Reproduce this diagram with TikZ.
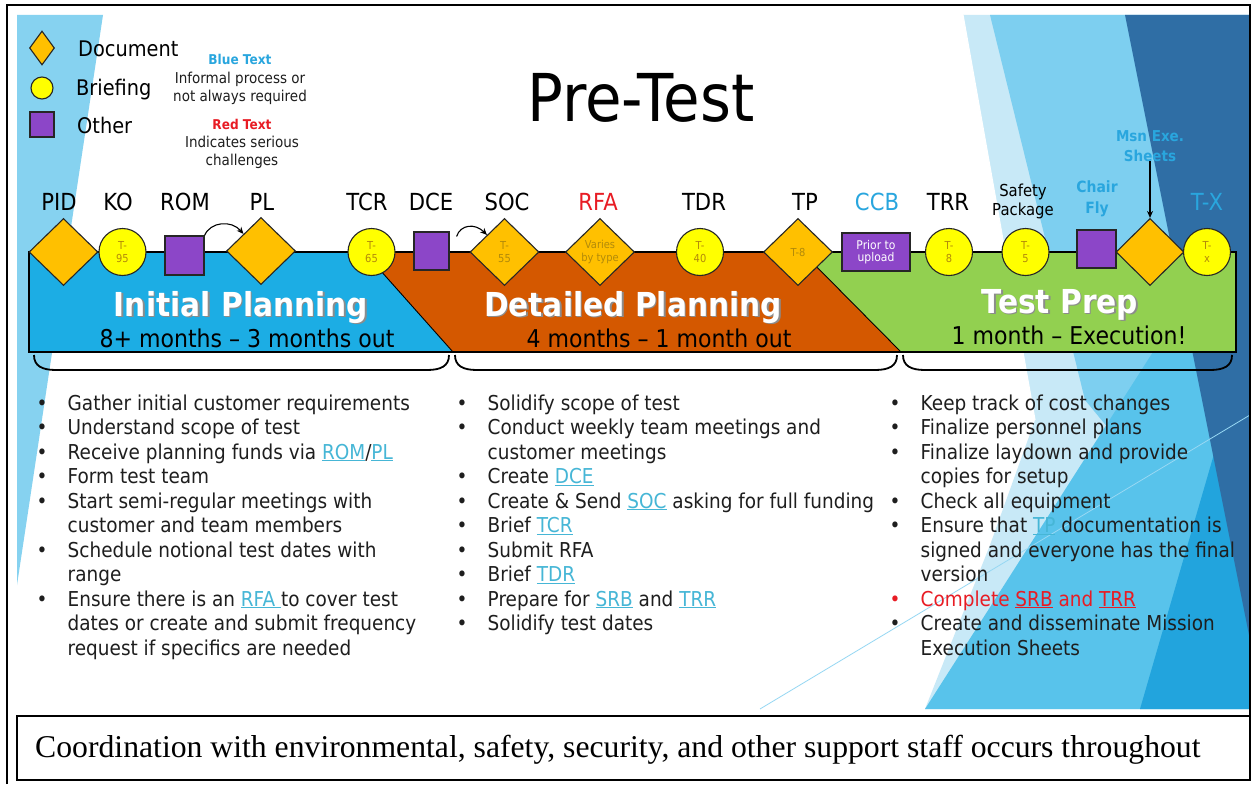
\documentclass[tikz,border=0pt]{standalone}
\usepackage{fontspec}
\usetikzlibrary{shapes.geometric,arrows.meta}
\newfontfamily\tah{DejaVu Sans}[FakeStretch=0.9]
\newfontfamily\capserif{Liberation Serif}
\newcommand\fsz[2]{\fontsize{#1}{#2}\selectfont}

\definecolor{goldc}{RGB}{255,192,0}
\definecolor{yelc}{RGB}{255,255,0}
\definecolor{purc}{RGB}{140,70,200}
\definecolor{bandblue}{RGB}{28,173,228}
\definecolor{bandorange}{RGB}{212,88,0}
\definecolor{bandgreen}{RGB}{146,208,80}
\definecolor{skyc}{RGB}{41,166,222}
\definecolor{redc}{RGB}{232,28,36}
\definecolor{linkc}{RGB}{70,182,214}
\definecolor{tinyc}{RGB}{178,138,10}
\definecolor{txtc}{RGB}{30,30,30}
\definecolor{stripe}{RGB}{134,210,240}
\definecolor{paleb}{RGB}{200,233,247}
\definecolor{lightb}{RGB}{125,207,240}
\definecolor{cyanb}{RGB}{88,195,235}
\definecolor{deepb}{RGB}{34,164,221}
\definecolor{darkb}{RGB}{47,110,165}

\newcommand\lnk[1]{\textcolor{linkc}{\underline{#1}}}
% one bulleted line, and one continuation line, of a task list
\newcommand\bitem[4]{\node[bul] (#1) at (#2,#3) {\makebox[31pt][l]{\textbullet}#4};}
\newcommand\bcont[4]{\node[bul] (#1) at (#2,#3) {\hspace*{31pt}#4};}

\begin{document}
\begin{tikzpicture}[x=1pt,y=-1pt,
  shp/.style={draw=black!85,line width=1.1pt},
  doc/.style={diamond,shp,fill=goldc,minimum width=69pt,minimum height=67pt,inner sep=0pt,align=center,font=\tah\fsz{11}{13},text=tinyc},
  brf/.style={circle,shp,fill=yelc,minimum size=47pt,inner sep=0pt,align=center,font=\tah\fsz{11}{13},text=tinyc},
  oth/.style={rectangle,shp,fill=purc,minimum width=39pt,minimum height=39pt,inner sep=0pt},
  mlbl/.style={anchor=base,inner sep=0pt,font=\tah\fsz{23.5}{28},text=black},
  note/.style={anchor=base,inner sep=0pt,font=\tah\fsz{15}{18},text=txtc},
  ttl/.style={anchor=base,inner sep=0pt,font=\tah\bfseries\fsz{33}{36},text=white},
  ttlsh/.style={ttl,text=black!45},
  sub/.style={anchor=base,inner sep=0pt,font=\tah\fsz{24.5}{28},text=black},
  bul/.style={anchor=base west,inner sep=0pt,font=\tah\fsz{20.5}{24.5},text=txtc},
  flow/.style={-{Stealth[length=7pt,width=6pt]},line width=1.1pt,black},
  spanline/.style={line width=1.8pt,black}
]
\useasboundingbox (0,0) rectangle (1252,784);
\fill[white] (0,0) rectangle (1252,784);

% slide background facets
\fill[stripe] (17,15) -- (103,15) -- (17,585) -- cycle;
\fill[paleb] (963,15) -- (1250,15) -- (1250,709) -- (925,709) -- (990,545) -- (1035,420) -- cycle;
\fill[lightb] (990,15) -- (1250,15) -- (1250,600) -- (1085,400) -- cycle;
\fill[cyanb] (925,709) -- (1250,200) -- (1250,709) -- cycle;
\fill[deepb] (1140,709) -- (1250,330) -- (1250,709) -- cycle;
\fill[darkb] (1125,15) -- (1250,15) -- (1250,640) -- cycle;
\draw[white,line width=1.2pt] (963,15) -- (1035,420);
\draw[lightb!80!white,line width=0.8pt] (760,709) -- (1250,415);

% frame and caption box
\draw[line width=1.6pt] (7,784) -- (7,5) -- (1250,5) -- (1250,716);
\draw[line width=2.2pt] (17,716) rectangle (1250,780);
\node[anchor=base west,inner sep=0pt,font=\capserif\fsz{31.7}{36}] (caption) at (35,757)
  {Coordination with environmental, safety, security, and other support staff occurs throughout};

% title
\node[anchor=base,inner sep=0pt,font=\tah\fsz{66}{70}] (title) at (641,121) {Pre-Test};

% legend
\node[doc,minimum width=25pt,minimum height=34pt] (lgdoc) at (42,48) {};
\node[brf,minimum size=22pt] (lgbrf) at (42,88) {};
\node[oth,minimum width=24pt,minimum height=25pt] (lgoth) at (42,124.5) {};
\node[anchor=base west,inner sep=0pt,font=\tah\fsz{21.5}{24}] (lgdoct) at (78,56.5) {Document};
\node[anchor=base west,inner sep=0pt,font=\tah\fsz{21.5}{24}] (lgbrft) at (76,95) {Briefing};
\node[anchor=base west,inner sep=0pt,font=\tah\fsz{21.5}{24}] (lgotht) at (77,133) {Other};
\node[note,font=\tah\bfseries\fsz{13.5}{16},text=skyc] (bluet) at (240,65) {Blue Text};
\node[note] (blue1) at (240,83.3) {Informal process or};
\node[note] (blue2) at (240,101.7) {not always required};
\node[note,font=\tah\bfseries\fsz{13.5}{16},text=redc] (redt) at (242,129) {Red Text};
\node[note] (red1) at (242,147.7) {Indicates serious};
\node[note] (red2) at (242,165) {challenges};

% phase band
\fill[bandblue] (29,252) -- (364,252) -- (453,352) -- (29,352) -- cycle;
\fill[bandorange] (364,252) -- (802,252) -- (901,352) -- (453,352) -- cycle;
\fill[bandgreen] (802,252) -- (1236,252) -- (1236,352) -- (901,352) -- cycle;
\draw[line width=1.1pt] (29,252) rectangle (1236,352);
\draw[line width=0.9pt] (364,252) -- (453,352) (802,252) -- (901,352);

% brackets under the phases
\draw[spanline] (34,355) .. controls (34,366) and (42,370) .. (56,370) -- (427,370) .. controls (441,370) and (449,366) .. (449,355);
\draw[spanline] (455,355) .. controls (455,366) and (463,370) .. (477,370) -- (875,370) .. controls (889,370) and (897,366) .. (897,355);
\draw[spanline] (903,355) .. controls (903,366) and (911,370) .. (925,370) -- (1210,370) .. controls (1224,370) and (1232,366) .. (1232,355);

% phase titles
\node[ttlsh] (ipsh) at (242.5,317.5) {Initial Planning};
\node[ttl] (ip) at (241,316) {Initial Planning};
\node[sub] (ipsub) at (247,347) {8+ months – 3 months out};
\node[ttlsh] (dpsh) at (634.5,317.5) {Detailed Planning};
\node[ttl] (dp) at (633,316) {Detailed Planning};
\node[sub] (dpsub) at (659,347) {4 months – 1 month out};
\node[ttlsh] (tpsh) at (1061.5,314.5) {Test Prep};
\node[ttl] (tpr) at (1060,313) {Test Prep};
\node[sub] (tpsub) at (1069,344) {1 month – Execution!};

% milestones
\node[doc] (pid) at (63.5,252) {};
\node[brf] (ko) at (122.5,252) {T-\\95};
\node[oth] (rom) at (184.5,255.5) {};
\node[doc] (pl) at (261,251) {};
\node[brf] (tcr) at (371.5,252) {T-\\65};
\node[oth,minimum width=35pt,minimum height=38pt] (dce) at (431.5,251) {};
\node[doc] (soc) at (504.5,252) {T-\\55};
\node[doc] (rfa) at (600,252) {Varies\\by type};
\node[brf] (tdr) at (700,252) {T-\\40};
\node[doc] (tp) at (798,252) {T-8};
\node[oth,minimum width=68pt,minimum height=38pt,font=\tah\fsz{12}{12.5},text=white,align=center] (ccb) at (876,252) {Prior to\\upload};
\node[brf] (trr) at (949,252) {T-\\8};
\node[brf] (saf) at (1025.5,252) {T-\\5};
\node[oth,minimum height=38pt] (chair) at (1096.5,249) {};
\node[doc,minimum width=68pt] (msn) at (1150,252) {};
\node[brf] (tx) at (1207,252) {T-\\x};

% milestone labels
\node[mlbl] (pidl) at (59,210) {PID};
\node[mlbl] (kol) at (118,210) {KO};
\node[mlbl] (roml) at (185,210) {ROM};
\node[mlbl] (pll) at (262,210) {PL};
\node[mlbl] (tcrl) at (367,210) {TCR};
\node[mlbl] (dcel) at (431,210) {DCE};
\node[mlbl] (socl) at (507,210) {SOC};
\node[mlbl,text=redc] (rfal) at (598,210) {RFA};
\node[mlbl] (tdrl) at (704,210) {TDR};
\node[mlbl] (tpl) at (805,210) {TP};
\node[mlbl,text=skyc] (ccbl) at (877,210) {CCB};
\node[mlbl] (trrl) at (948,210) {TRR};
\node[mlbl,font=\tah\fsz{16.5}{19}] (saf1) at (1023,196) {Safety};
\node[mlbl,font=\tah\fsz{16.5}{19}] (saf2) at (1023,215) {Package};
\node[mlbl,font=\tah\bfseries\fsz{15.5}{19},text=skyc] (chair1) at (1097,192) {Chair};
\node[mlbl,font=\tah\bfseries\fsz{15.5}{19},text=skyc] (chair2) at (1097,213) {Fly};
\node[mlbl,font=\tah\bfseries\fsz{15}{18},text=skyc] (msn1) at (1150,141) {Msn Exe.};
\node[mlbl,font=\tah\bfseries\fsz{15}{18},text=skyc] (msn2) at (1150,161) {Sheets};
\node[mlbl,text=skyc] (txl) at (1207,210) {T-X};

% connectors
\draw[flow] (rom.north east) .. controls +(6,-14) and +(-12,-14) .. (pl.north west);
\draw[flow] ([shift={(7,5)}]dce.north east) .. controls +(4,-12) and +(-12,-12) .. (soc.north west);
\draw[flow] (msn2.south) -- (msn.north);

% task lists
\bitem{a1}{36.5}{410}{Gather initial customer requirements}
\bitem{a2}{36.5}{434.5}{Understand scope of test}
\bitem{a3}{36.5}{459}{Receive planning funds via \lnk{ROM}/\lnk{PL}}
\bitem{a4}{36.5}{483.5}{Form test team}
\bitem{a5}{36.5}{508}{Start semi-regular meetings with}
\bcont{a6}{36.5}{532.5}{customer and team members}
\bitem{a7}{36.5}{557}{Schedule notional test dates with}
\bcont{a8}{36.5}{581.5}{range}
\bitem{a9}{36.5}{606}{Ensure there is an \lnk{RFA~}to cover test}
\bcont{a10}{36.5}{630.5}{dates or create and submit frequency}
\bcont{a11}{36.5}{655}{request if specifics are needed}

\bitem{b1}{456.5}{410}{Solidify scope of test}
\bitem{b2}{456.5}{434.5}{Conduct weekly team meetings and}
\bcont{b3}{456.5}{459}{customer meetings}
\bitem{b4}{456.5}{483.5}{Create \lnk{DCE}}
\bitem{b5}{456.5}{508}{Create \& Send \lnk{SOC} asking for full funding}
\bitem{b6}{456.5}{532.5}{Brief \lnk{TCR}}
\bitem{b7}{456.5}{557}{Submit RFA}
\bitem{b8}{456.5}{581.5}{Brief \lnk{TDR}}
\bitem{b9}{456.5}{606}{Prepare for \lnk{SRB} and \lnk{TRR}}
\bitem{b10}{456.5}{630.5}{Solidify test dates}

\bitem{c1}{889.5}{410}{Keep track of cost changes}
\bitem{c2}{889.5}{434.5}{Finalize personnel plans}
\bitem{c3}{889.5}{459}{Finalize laydown and provide}
\bcont{c4}{889.5}{483.5}{copies for setup}
\bitem{c5}{889.5}{508}{Check all equipment}
\bitem{c6}{889.5}{532.5}{Ensure that \lnk{TP} documentation is}
\bcont{c7}{889.5}{557}{signed and everyone has the final}
\bcont{c8}{889.5}{581.5}{version}
\node[bul,text=redc] (c9) at (889.5,606) {\makebox[31pt][l]{\textbullet}Complete \underline{SRB} and \underline{TRR}};
\bitem{c10}{889.5}{630.5}{Create and disseminate Mission}
\bcont{c11}{889.5}{655}{Execution Sheets}
\end{tikzpicture}
\end{document}
